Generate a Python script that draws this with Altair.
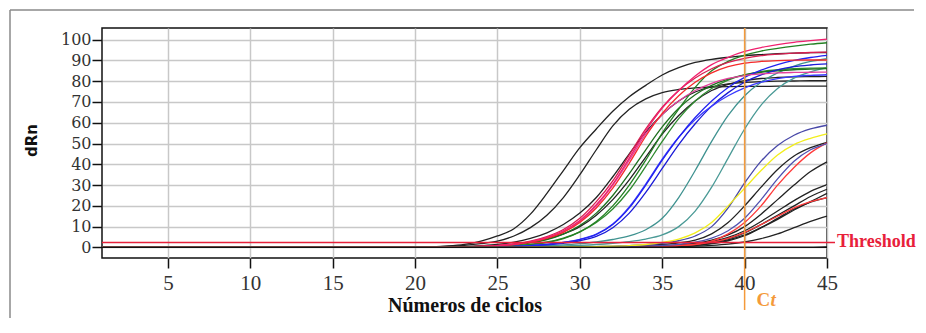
import altair as alt
import pandas as pd

# ---------------- data ----------------
CYCLES = [1, 20, 21, 22, 23, 24, 25, 26, 27, 28, 29, 30, 31, 32, 33, 34, 35, 36, 37, 38, 39, 40, 41, 42, 43, 44, 45]

X_TICKS = [5, 10, 15, 20, 25, 30, 35, 40, 45]
Y_TICKS = [0, 10, 20, 30, 40, 50, 60, 70, 80, 90, 100]

THRESHOLD = 2.4
CT_CYCLE = 40

# early blacks
BLACK_A = [0, 0.1, 0.3, 0.7, 1.5, 3, 5.5, 9, 16, 26, 37, 48, 57, 65.5, 72.5, 78, 83, 86.5, 89, 90.5, 91.5, 92.3, 92.8, 93.2, 93.5, 93.7, 93.8]
BLACK_B = [0, 0.1, 0.2, 0.5, 1, 1.8, 3, 5.5, 9.5, 15.5, 24, 35, 47, 58.5, 66.5, 71.5, 74.5, 76, 76.8, 77.2, 77.4, 77.5, 77.5, 77.6, 77.6, 77.6, 77.6]
BLACK_C = [0, 0, 0.1, 0.2, 0.4, 0.8, 1.4, 2.5, 4.3, 7, 11, 16.5, 24, 34, 45, 55.5, 64, 70.5, 74.8, 77.3, 78.7, 79.4, 79.8, 80, 80.1, 80.2, 80.2]
BLACK_D = [0, 0, 0, 0.1, 0.2, 0.4, 0.8, 1.4, 2.4, 4, 6.5, 10, 15.5, 23, 32.5, 43.5, 54.5, 63.5, 70.5, 75.5, 78.5, 80.3, 81.3, 81.8, 82.1, 82.2, 82.3]
# pink / red bundle
PINK_1 = [0, 0, 0.1, 0.2, 0.3, 0.5, 0.9, 1.6, 2.8, 4.8, 8, 13, 20.5, 30.5, 43, 56, 67, 75.5, 82.5, 88, 91.5, 94.3, 96.2, 97.6, 98.7, 99.5, 100.2]
RED_2 = [0, 0, 0.1, 0.2, 0.3, 0.5, 0.8, 1.4, 2.5, 4.3, 7.2, 12, 19, 28.5, 40.5, 53.5, 64.5, 73, 79.5, 84, 87, 88.7, 89.5, 89.9, 90.1, 90.2, 90.2]
MAGENTA_3 = [0, 0, 0.1, 0.2, 0.3, 0.5, 0.9, 1.5, 2.7, 4.6, 7.6, 12.5, 20, 30, 42, 54.5, 64, 70.5, 75.5, 79, 81.3, 82.7, 83.5, 84, 84.2, 84.3, 84.4]
CRIMSON_4 = [0, 0, 0.1, 0.2, 0.3, 0.6, 1, 1.7, 3, 5.2, 8.6, 14, 22, 32, 44.5, 57, 67.5, 75.5, 81.5, 86, 89, 91, 92.3, 93, 93.5, 93.8, 94]
# greens
GREEN_1 = [0, 0, 0, 0.1, 0.2, 0.3, 0.5, 0.8, 1.3, 2.3, 4.2, 7.5, 12.5, 20, 30, 42, 55, 66.5, 77, 85, 89.5, 92.5, 94.5, 95.8, 96.9, 97.8, 98.5]
GREEN_2 = [0, 0, 0, 0.1, 0.2, 0.3, 0.5, 0.9, 1.5, 2.6, 4.5, 7.5, 12, 18.5, 27.5, 39, 51, 62, 70.5, 76.5, 80.5, 83, 84.6, 85.5, 86, 86.3, 86.4]
GREEN_3 = [0, 0, 0.1, 0.2, 0.3, 0.5, 0.8, 1.3, 2.2, 3.8, 6.4, 10.5, 16.5, 25, 35.5, 47, 58, 67, 73.5, 78, 81, 83, 84.3, 85, 85.5, 85.8, 86]
# blues
BLUE_1 = [0, 0, 0, 0, 0.1, 0.2, 0.3, 0.5, 0.9, 1.5, 2.4, 3.8, 6.2, 11, 19, 30, 42, 53, 62.5, 70.5, 77, 81.8, 85.3, 88, 90, 91.4, 92.4]
BLUE_2 = [0, 0, 0, 0, 0.1, 0.2, 0.3, 0.5, 0.9, 1.5, 2.4, 3.9, 6.4, 11.3, 19.5, 30.5, 42.5, 53, 61.5, 68, 73, 76.8, 79.5, 81.2, 82.3, 82.8, 83.1]
BLUE_3 = [0, 0, 0, 0, 0.1, 0.1, 0.2, 0.4, 0.7, 1.2, 2, 3.2, 5.3, 9.5, 16.5, 26.5, 38, 49.5, 59.5, 68, 74.5, 79.5, 83, 85.5, 87, 87.8, 88.3]
# teals
TEAL_1 = [0, 0, 0, 0, 0, 0.1, 0.2, 0.3, 0.5, 0.8, 1.2, 1.8, 2.6, 3.8, 5.5, 8.5, 14, 24, 37, 51, 63.5, 73, 79.5, 84, 87.3, 89.5, 90.8]
TEAL_2 = [0, 0, 0, 0, 0, 0, 0.1, 0.2, 0.3, 0.5, 0.7, 1, 1.4, 2, 2.8, 4, 6, 10, 17.5, 29, 43, 57, 68.5, 76.5, 81.5, 84.5, 86.5]
# late group
NAVY_1 = [0, 0, 0, 0, 0, 0, 0, 0, 0.1, 0.1, 0.2, 0.3, 0.4, 0.6, 0.9, 1.3, 2, 3.2, 5.5, 10, 19, 31, 41.5, 49, 54, 57, 58.8]
YELLOW = [0, 0, 0, 0, 0, 0, 0, 0, 0.1, 0.1, 0.2, 0.3, 0.4, 0.6, 0.9, 1.4, 2.4, 4, 7, 12, 20, 28.5, 37, 44.5, 49.5, 52.5, 54.6]
NAVY_2 = [0, 0, 0, 0, 0, 0, 0, 0, 0, 0.1, 0.1, 0.2, 0.3, 0.4, 0.5, 0.7, 1, 1.5, 2.5, 4.5, 8, 14, 23, 33, 41.5, 47, 50]
BLACK_E = [0, 0, 0, 0, 0, 0, 0, 0, 0, 0.1, 0.1, 0.2, 0.3, 0.4, 0.6, 0.9, 1.4, 2.2, 3.5, 6.5, 12, 20, 29, 37.5, 44, 48, 50.6]
RED_LATE = [0, 0, 0, 0, 0, 0, 0, 0, 0, 0, 0.1, 0.1, 0.2, 0.3, 0.4, 0.5, 0.7, 1, 1.5, 3, 6.5, 12, 20, 30, 38.5, 45.5, 50.3]
BLACK_F = [0, 0, 0, 0, 0, 0, 0, 0, 0, 0, 0.1, 0.1, 0.2, 0.3, 0.4, 0.6, 0.8, 1.2, 2, 3.5, 6, 10, 16, 23, 30, 36.5, 41.2]
BLACK_G = [0, 0, 0, 0, 0, 0, 0, 0, 0, 0, 0, 0.1, 0.1, 0.2, 0.3, 0.4, 0.6, 0.9, 1.5, 2.8, 4.8, 8, 12.5, 17.5, 22.5, 27, 30.2]
BLACK_H = [0, 0, 0, 0, 0, 0, 0, 0, 0, 0, 0, 0.1, 0.1, 0.2, 0.3, 0.4, 0.5, 0.8, 1.3, 2.4, 4.2, 7, 11, 15.5, 20, 24.5, 28]
BLACK_I = [0, 0, 0, 0, 0, 0, 0, 0, 0, 0, 0, 0, 0.1, 0.1, 0.2, 0.3, 0.4, 0.7, 1.1, 2, 3.6, 6, 9.5, 13.5, 18, 22, 26]
RED_LATE2 = [0, 0, 0, 0, 0, 0, 0, 0, 0, 0, 0, 0.1, 0.1, 0.2, 0.3, 0.4, 0.6, 0.9, 1.4, 2.5, 4.3, 7.2, 11, 15, 19, 22, 24]
BLACK_J = [0, 0, 0, 0, 0, 0, 0, 0, 0, 0, 0, 0, 0.1, 0.1, 0.2, 0.3, 0.4, 0.6, 1, 1.8, 3.2, 5.6, 9.5, 14, 18.5, 21.8, 24]
BLACK_K = [0, 0, 0, 0, 0, 0, 0, 0, 0, 0, 0, 0, 0, 0.1, 0.1, 0.2, 0.3, 0.4, 0.6, 1, 1.6, 2.6, 4.2, 6.5, 9.5, 12.5, 15]
# no amplification (flat)
FLAT_1 = [0, 0, 0, 0, 0, 0, 0, 0, 0, 0, 0, 0, 0, 0, 0, 0, 0, 0, 0, 0, 0, 0, 0, 0, 0, 0, 0]
FLAT_2 = [0, 0, 0, 0, 0, 0, 0, 0, 0, 0, 0, 0, 0, 0, 0, 0, 0, 0, 0, 0, 0, 0, 0, 0, 0, 0, 0.2]

# draw order: (name, colour, values)
CURVES = [
    ("black_a", "#222222", BLACK_A),
    ("black_b", "#222222", BLACK_B),
    ("black_c", "#222222", BLACK_C),
    ("black_d", "#222222", BLACK_D),
    ("black_e", "#222222", BLACK_E),
    ("black_f", "#222222", BLACK_F),
    ("black_g", "#222222", BLACK_G),
    ("black_h", "#222222", BLACK_H),
    ("black_i", "#222222", BLACK_I),
    ("black_j", "#222222", BLACK_J),
    ("black_k", "#222222", BLACK_K),
    ("teal_1", "#3f9290", TEAL_1),
    ("teal_2", "#4a9a96", TEAL_2),
    ("green_2", "#2e8b2e", GREEN_2),
    ("green_3", "#1f6f1f", GREEN_3),
    ("green_1", "#238023", GREEN_1),
    ("blue_3", "#1a1ad8", BLUE_3),
    ("blue_2", "#3a3aff", BLUE_2),
    ("blue_1", "#2222f0", BLUE_1),
    ("magenta_3", "#e4409c", MAGENTA_3),
    ("red_2", "#f52a2a", RED_2),
    ("crimson_4", "#d81e50", CRIMSON_4),
    ("pink_1", "#f0206e", PINK_1),
    ("red_late2", "#ff3a3a", RED_LATE2),
    ("red_late", "#ff3a3a", RED_LATE),
    ("navy_2", "#5050b0", NAVY_2),
    ("navy_1", "#4848a8", NAVY_1),
    ("yellow", "#f2ee1c", YELLOW),
    ("flat_1", "#111111", FLAT_1),
    ("flat_2", "#111111", FLAT_2),
]

rows = []
for i, (name, colour, vals) in enumerate(CURVES):
    for c, v in zip(CYCLES, vals):
        rows.append({"cycle": c, "value": v, "curve": f"{i:02d}_{name}", "color": colour})
df = pd.DataFrame(rows)

# ---------------- styling ----------------
XS = alt.Scale(domain=[1, 45], nice=False, zero=False)
YS = alt.Scale(domain=[-5.1, 105.6], nice=False, zero=False)

x_axis = alt.Axis(
    values=X_TICKS, grid=True, gridColor="#c8c8c8", gridWidth=1.5,
    domain=False, ticks=True, tickSize=10, tickColor="#111111", tickWidth=1.5,
    labelFont="Liberation Serif", labelFontSize=21, labelColor="#333333",
    labelPadding=4, labelFlush=False, labelOverlap=False,
    title="Números de ciclos", titleFont="Liberation Serif", titleFontSize=20,
    titleFontWeight="bold", titleColor="#111111", titleY=47, titleBaseline="middle",
)
y_axis = alt.Axis(
    values=Y_TICKS, grid=True, gridColor="#c8c8c8", gridWidth=1.5,
    domain=False, ticks=True, tickSize=10, tickColor="#111111", tickWidth=1.5,
    labelFont="DejaVu Serif", labelFontSize=16, labelColor="#333333",
    labelPadding=1, labelFlush=False, labelOverlap=False,
    title="dRn", titleFont="DejaVu Sans", titleFontSize=15, titleFontWeight="bold",
    titleColor="#111111", titleAngle=270, titleX=-70.6, titleY=112,
    titleAlign="center", titleBaseline="middle",
)

X = alt.X("cycle:Q", scale=XS, axis=x_axis)
Y = alt.Y("value:Q", scale=YS, axis=y_axis)

curves = alt.Chart(df).mark_line(interpolate="monotone", strokeWidth=1.3).encode(
    x=X, y=Y,
    color=alt.Color("color:N", scale=None),
    detail="curve:N",
)

thr_df = pd.DataFrame({"value": [THRESHOLD], "label": ["Threshold"]})
thr_rule = alt.Chart(thr_df).mark_rule(color="#e8203a", strokeWidth=1.5).encode(
    y=Y, x=alt.value(0), x2=alt.value(733)
)
thr_text = alt.Chart(thr_df).mark_text(
    align="left", baseline="middle", font="Liberation Serif", fontWeight="bold",
    fontSize=18, color="#e8203a"
).encode(y=Y, x=alt.value(735), text="label:N")

ct_df = pd.DataFrame({"cycle": [CT_CYCLE], "c": ["C"], "t": ["t"]})
ORANGE = "#f49a3a"
ct_rule = alt.Chart(ct_df).mark_rule(color=ORANGE, strokeWidth=1.5).encode(
    x=X, y=alt.value(0), y2=alt.value(282)
)
ct_c = alt.Chart(ct_df).mark_text(
    align="left", baseline="middle", font="Liberation Serif", fontWeight="bold",
    fontSize=19, color=ORANGE, dx=12
).encode(x=X, y=alt.value(272), text="c:N")
ct_t = alt.Chart(ct_df).mark_text(
    align="left", baseline="middle", font="Liberation Serif", fontWeight="bold",
    fontStyle="italic", fontSize=19, color=ORANGE, dx=26
).encode(x=X, y=alt.value(272), text="t:N")

frame_df = pd.DataFrame({"k": [0]})
frame_h = alt.Chart(frame_df).mark_rule(color="#8a8a8a", strokeWidth=1.5).encode(
    x=alt.value(-92), x2=alt.value(812), y=alt.value(-18)
)
frame_v = alt.Chart(frame_df).mark_rule(color="#8a8a8a", strokeWidth=1.5).encode(
    x=alt.value(-92), y=alt.value(-18), y2=alt.value(297)
)

chart = alt.layer(
    frame_h, frame_v, curves, thr_rule, thr_text, ct_rule, ct_c, ct_t
).properties(
    width=725, height=230,
    padding={"left": 94, "top": 20, "right": 91, "bottom": 60},
    autosize=alt.AutoSizeParams(type="none"),
    background="white",
).configure_view(stroke="#111111", strokeWidth=1.5)

chart.save("out.html", embed_options={"renderer": "svg", "actions": False})
